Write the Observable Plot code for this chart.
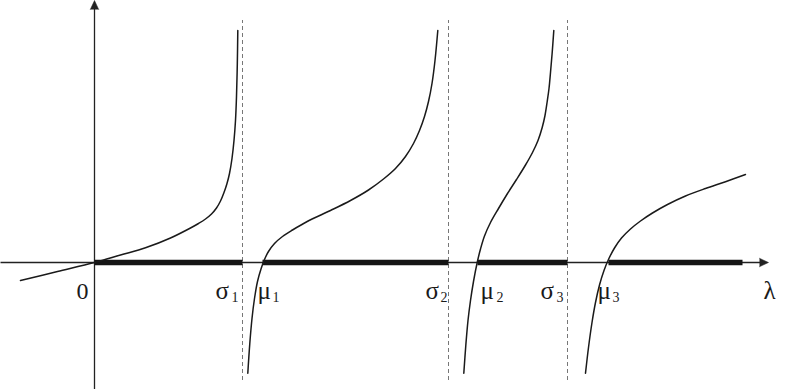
<!DOCTYPE html>
<html>
<head>
<meta charset="utf-8">
<script src="https://cdn.jsdelivr.net/npm/d3@7"></script>
<script src="https://cdn.jsdelivr.net/npm/@observablehq/plot@0.6"></script>
<style>
  html, body { margin: 0; padding: 0; background: #fff; }
  #chart svg { display: block; }
</style>
</head>
<body>
<div id="chart"></div>
<script>
// ---- data (x in λ units, y in f(λ) units) ----
const sigma = [14.8, 35.4, 47.3];
const mu = [16.8, 38.3, 51.4];
const lambdaEnd = 64.8;

const curve1X = [-7.4, -3.7, 0, 2.6, 5.1, 7.6, 9.6, 10.4, 11.1, 11.7, 12.2, 12.6, 12.95, 13.25, 13.5, 13.75, 13.95, 14.1, 14.2, 14.28, 14.33];
const curve1Y = [-1.8, -0.9, 0, 0.75, 1.47, 2.45, 3.45, 3.9, 4.35, 4.85, 5.45, 6.15, 7.0, 7.9, 8.9, 10.4, 12.2, 14.2, 16.6, 19.8, 23.2];

const curve2X = [15.33, 15.53, 15.75, 16.0, 16.3, 16.65, 17.0, 17.4, 18.0, 18.8, 19.8, 21.27, 23.6, 25.6, 27.4, 28.9, 30.1, 31.1, 31.9, 32.5, 33.0, 33.4, 33.75, 34.05, 34.33];
const curve2Y = [-11.07, -8.1, -5.6, -3.6, -1.9, -0.65, 0.3, 1.1, 1.9, 2.6, 3.25, 4.1, 5.2, 6.2, 7.25, 8.35, 9.4, 10.6, 11.9, 13.2, 14.6, 16.1, 17.9, 20.2, 23.2];

const curve3X = [36.93, 37.13, 37.35, 37.6, 37.9, 38.27, 38.6, 39.0, 39.6, 40.4, 41.3, 42.2, 43.1, 43.8, 44.35, 44.77, 45.05, 45.27, 45.45, 45.6, 45.77, 45.93];
const curve3Y = [-11.07, -8.3, -5.8, -3.8, -1.9, 0, 1.35, 2.65, 4.0, 5.4, 6.9, 8.3, 9.75, 11.0, 12.2, 13.5, 14.7, 16.1, 17.4, 19.0, 21.0, 23.2];

const curve4X = [49.1, 49.4, 49.75, 50.1, 50.5, 50.95, 51.43, 52.0, 52.7, 53.6, 54.6, 55.8, 57.3, 59.1, 61.1, 63.1, 65.1];
const curve4Y = [-11.07, -8.5, -6.0, -4.0, -2.25, -0.8, 0.37, 1.45, 2.45, 3.35, 4.15, 4.95, 5.8, 6.65, 7.4, 8.08, 8.8];

const xAxisExtent = [-9.4, 67.4];
const yAxisExtent = [-12.7, 26.2];
const asymptoteExtent = [-11.8, 24.2];

const labelText = ["σ", "μ", "σ", "μ", "σ", "μ", "λ"];
const labelX = [12.1, 16.3, 33.1, 38.6, 44.6, 50.3, 66.9];
const subText = ["1", "1", "2", "2", "3", "3"];
const subX = [13.7, 17.8, 34.6, 40.2, 46.2, 51.8];
const originLabel = "0";
const originLabelX = -0.6;
const labelBaseline = -3.6;
const subBaseline = -3.9;

// ---- derived tables ----
const toPts = (xs, ys, id) => xs.map((x, i) => ({x, y: ys[i], id}));
const curves = [
  ...toPts(curve1X, curve1Y, 1),
  ...toPts(curve2X, curve2Y, 2),
  ...toPts(curve3X, curve3Y, 3),
  ...toPts(curve4X, curve4Y, 4)
];
const segStarts = [0, ...mu];
const segEnds = [...sigma, lambdaEnd];
const thick = segStarts.map((s, i) => ({x1: s, x2: segEnds[i]}));
const labels = labelText.map((t, i) => ({t, x: labelX[i]}));
const subs = subText.map((t, i) => ({t, x: subX[i]}));

const font = "'Liberation Serif', 'Times New Roman', serif";

const chart = Plot.plot({
  width: 785,
  height: 389,
  margin: 0,
  style: {fontFamily: font},
  x: {domain: [-9.4, 69.1], axis: null},
  y: {domain: [-12.7, 26.2], axis: null},
  marks: [
    // asymptotes
    Plot.ruleX(sigma, {y1: () => asymptoteExtent[0], y2: () => asymptoteExtent[1], stroke: "#777", strokeWidth: 1, strokeDasharray: "4,3"}),
    // x axis
    Plot.link([xAxisExtent], {x1: d => d[0], x2: d => d[1] - 0.8, y1: () => 0, y2: () => 0, stroke: "#222", strokeWidth: 1.3}),
    Plot.vector([xAxisExtent], {x: d => d[1], y: () => 0, length: 9, r: 4.2, rotate: 90, shape: "spike", anchor: "end", fill: "#222", stroke: "#222", strokeWidth: 0.5}),
    // y axis
    Plot.link([yAxisExtent], {x1: () => 0, x2: () => 0, y1: d => d[0], y2: d => d[1] - 0.8, stroke: "#222", strokeWidth: 1.3}),
    Plot.vector([yAxisExtent], {x: () => 0, y: d => d[1], length: 9, r: 4.2, rotate: 0, shape: "spike", anchor: "end", fill: "#222", stroke: "#222", strokeWidth: 0.5}),
    // thick segments on λ axis
    Plot.link(thick, {x1: "x1", x2: "x2", y1: () => 0, y2: () => 0, stroke: "#151515", strokeWidth: 5.5}),
    // curves
    Plot.line(curves, {x: "x", y: "y", z: "id", curve: "catmull-rom", stroke: "#1a1a1a", strokeWidth: 1.5}),
    // labels
    Plot.text([originLabel], {x: () => originLabelX, y: () => labelBaseline, text: d => d, textAnchor: "end", lineAnchor: "bottom", fontSize: 24, fontFamily: font, fill: "#1a1a1a"}),
    Plot.text(labels, {x: "x", y: () => labelBaseline, text: "t", textAnchor: "start", lineAnchor: "bottom", fontSize: 25, fontFamily: font, fill: "#1a1a1a"}),
    Plot.text(subs, {x: "x", y: () => subBaseline, text: "t", textAnchor: "start", lineAnchor: "bottom", fontSize: 14, fontFamily: font, fill: "#1a1a1a"})
  ]
});
document.getElementById("chart").appendChild(chart);
</script>
</body>
</html>
